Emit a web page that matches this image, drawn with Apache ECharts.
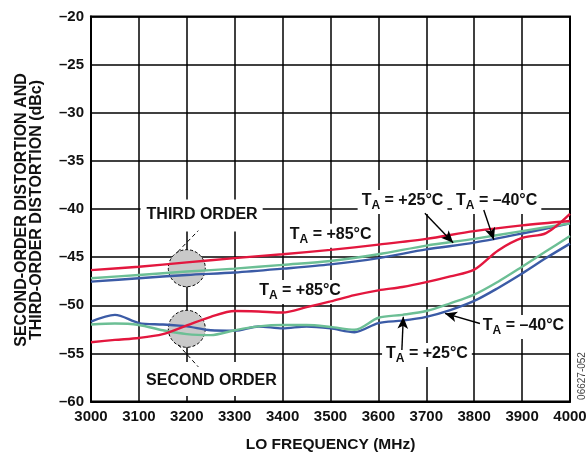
<!DOCTYPE html>
<html>
<head>
<meta charset="utf-8">
<script src="https://cdn.jsdelivr.net/npm/echarts@6/dist/echarts.min.js"></script>
<style>
html,body{margin:0;padding:0;background:#fff;}
#c{width:587px;height:452px;}
</style>
</head>
<body>
<div id="c"></div>
<script>
// ---------- data ----------
const xTickLabels = ['3000','3100','3200','3300','3400','3500','3600','3700','3800','3900','4000'];
const yTickLabels = ['–60','–55','–50','–45','–40','–35','–30','–25','–20'];

const freq3 = [3000,3100,3200,3300,3400,3500,3600,3700,3800,3900,4000];
const third85  = [-46.35,-46.0,-45.55,-45.1,-44.7,-44.25,-43.7,-43.1,-42.3,-41.7,-41.25];
const third25  = [-47.2,-46.85,-46.5,-46.2,-45.8,-45.4,-44.7,-43.8,-43.1,-42.3,-41.5];
const thirdM40 = [-47.55,-47.2,-46.85,-46.6,-46.2,-45.75,-45.1,-44.2,-43.5,-42.55,-41.5];

const freq2 = [3000,3050,3100,3150,3200,3250,3300,3350,3400,3450,3500,3550,3600,3650,3700,3750,3800,3850,3900,3950,4000];
const second85  = [-53.85,-53.6,-53.4,-53.0,-52.1,-51.2,-50.6,-50.65,-50.75,-50.2,-49.6,-48.95,-48.45,-48.1,-47.6,-47.0,-46.3,-44.3,-43.0,-42.5,-40.5];
const second25  = [-52.0,-51.9,-52.05,-52.6,-53.0,-53.1,-52.6,-52.2,-52.05,-52.05,-52.25,-52.55,-51.3,-51.0,-50.6,-49.8,-48.9,-47.55,-46.0,-44.4,-42.8];
const secondM40 = [-51.7,-51.0,-51.85,-52.0,-52.2,-52.6,-52.65,-52.2,-52.4,-52.2,-52.4,-52.8,-51.85,-51.6,-51.2,-50.5,-49.55,-48.2,-46.7,-45.1,-43.6];

// annotation anchors (data units)
const arrowLines = [
  [[3697,-40.45],[3756,-43.5]],
  [[3820,-40.1],[3841,-43.2]],
  [[3812,-51.9],[3739,-50.85]],
  [[3649,-54.65],[3652,-51.2]]
];
const leaderLines = [
  [[3181,-44.45],[3224,-42.25]],
  [[3182,-54.1],[3224,-56.4]]
];
const circleCenters = [[3200,-46.15],[3200,-52.45]];
const tempLabels = [
  {t:'+85°C', at:[3415,-42.67]},
  {t:'+85°C', at:[3351,-48.52]},
  {t:'+25°C', at:[3565,-39.17]},
  {t:'–40°C', at:[3762,-39.17]},
  {t:'–40°C', at:[3818,-52.16]},
  {t:'+25°C', at:[3616,-55.06]}
];
const orderLabels = [
  {t:'THIRD ORDER', at:[3116,-40.57], pad:[7,5,9,6]},
  {t:'SECOND ORDER', at:[3115,-57.87], pad:[11,2,7,5]}
];

// ---------- chart ----------
const FONT = '"Liberation Sans", Arial, Helvetica, sans-serif';
const RED = '#e3173e', GREEN = '#6cbf95', BLUE = '#3b5ba6';
const zip = (xs, ys) => xs.map((x, i) => [x, ys[i]]);

const chart = echarts.init(document.getElementById('c'));

function lineSeries(name, xs, ys, color, extra) {
  return Object.assign({
    name: name, type: 'line', data: zip(xs, ys),
    showSymbol: false, smooth: 0.3, silent: true,
    lineStyle: {color: color, width: 2.4},
    itemStyle: {color: color}
  }, extra || {});
}

chart.setOption({
  animation: false,
  backgroundColor: '#fff',
  textStyle: {fontFamily: FONT},
  grid: {left: 91, right: 17, top: 16.5, bottom: 50.5, show: true,
         borderColor: '#000', borderWidth: 2, outerBoundsMode: 'none'},
  xAxis: {
    type: 'value', min: 3000, max: 4000, interval: 100,
    axisLine: {show: true, lineStyle: {color: '#000', width: 2}},
    axisTick: {show: false},
    splitLine: {show: true, lineStyle: {color: '#000', width: 1.5}},
    axisLabel: {color: '#111', fontSize: 15, fontWeight: 'bold', fontFamily: FONT, margin: 8,
      formatter: v => xTickLabels[Math.round((v - 3000) / 100)]}
  },
  yAxis: {
    type: 'value', min: -60, max: -20, interval: 5,
    axisLine: {show: true, lineStyle: {color: '#000', width: 2}},
    axisTick: {show: false},
    splitLine: {show: true, lineStyle: {color: '#000', width: 1.5}},
    axisLabel: {color: '#111', fontSize: 15, fontWeight: 'bold', fontFamily: FONT, margin: 7,
      formatter: v => yTickLabels[Math.round((v + 60) / 5)]}
  },
  series: [
    lineSeries('3rd -40', freq3, thirdM40, BLUE),
    lineSeries('3rd +25', freq3, third25, GREEN),
    lineSeries('3rd +85', freq3, third85, RED),
    lineSeries('2nd -40', freq2, secondM40, BLUE),
    lineSeries('2nd +25', freq2, second25, GREEN),
    lineSeries('2nd +85', freq2, second85, RED, {
      markLine: {
        silent: true, animation: false,
        label: {show: false},
        data: arrowLines.map(a => [
          {coord: a[0], symbol: 'none', lineStyle: {color: '#000', width: 1.4, type: 'solid'}},
          {coord: a[1], symbol: 'arrow', symbolSize: [8, 12]}
        ]).concat(leaderLines.map(a => [
          {coord: a[0], symbol: 'none', lineStyle: {color: '#000', width: 1, type: [4, 3]}},
          {coord: a[1], symbol: 'none'}
        ]))
      }
    })
  ]
});

// annotations positioned from data coordinates
const P = p => chart.convertToPixel({gridIndex: 0}, p);
const graphics = [];

circleCenters.forEach(c => {
  const p = P(c);
  graphics.push({type: 'circle', z: 1, shape: {cx: p[0], cy: p[1], r: 18.5},
    style: {fill: '#c9c9c9', stroke: '#000', lineWidth: 1, lineDash: [3, 2]}});
});

const tPad = [3, 4, 5, 4];
tempLabels.forEach(l => {
  const p = P(l.at);
  graphics.push({type: 'text', z: 1, x: p[0] - tPad[3], y: p[1] - 8 - tPad[0],
    style: {
      text: '{t|T}{s|A}{t| = ' + l.t + '}',
      align: 'left', verticalAlign: 'top',
      backgroundColor: '#fff', padding: tPad,
      fill: '#111',
      rich: {
        t: {fontSize: 16, fontWeight: 'bold', fontFamily: FONT, lineHeight: 16, verticalAlign: 'top', fill: '#111'},
        s: {fontSize: 12, fontWeight: 'bold', fontFamily: FONT, lineHeight: 12, verticalAlign: 'top', padding: [7, 0, 0, 0], fill: '#111'}
      }
    }});
});

orderLabels.forEach(l => {
  const p = P(l.at);
  graphics.push({type: 'text', z: 1, x: p[0] - l.pad[3], y: p[1] - 8 - l.pad[0],
    style: {
      text: l.t, align: 'left', verticalAlign: 'top',
      font: 'bold 16px ' + FONT, lineHeight: 16,
      backgroundColor: '#fff', padding: l.pad, fill: '#111'
    }});
});

// axis titles and figure id
graphics.push({type: 'text', x: 29.3, y: 210, rotation: Math.PI / 2,
  style: {text: 'SECOND-ORDER DISTORTION AND\nTHIRD-ORDER DISTORTION (dBc)',
    font: 'bold 16px ' + FONT, lineHeight: 14.8, align: 'center', verticalAlign: 'middle', fill: '#111'}});
graphics.push({type: 'text', x: 330.5, y: 445,
  style: {text: 'LO FREQUENCY (MHz)', font: 'bold 15.5px ' + FONT,
    align: 'center', verticalAlign: 'middle', fill: '#111'}});
graphics.push({type: 'text', x: 582.5, y: 376, rotation: Math.PI / 2,
  style: {text: '06627-052', font: '10px ' + FONT, align: 'center', verticalAlign: 'middle', fill: '#444'}});

chart.setOption({graphic: {elements: graphics}});
</script>
</body>
</html>
